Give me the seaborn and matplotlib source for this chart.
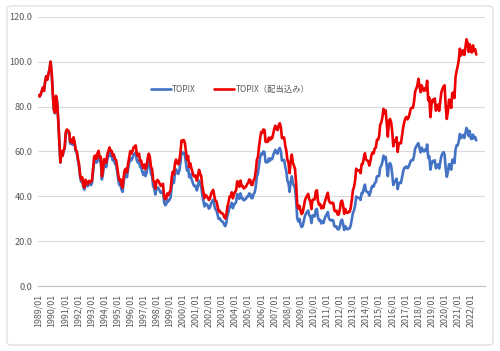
import numpy as np
import pandas as pd
import matplotlib
matplotlib.use("Agg")
import matplotlib.pyplot as plt
from matplotlib.patches import FancyBboxPatch
import seaborn as sns

# monthly index, 1989/12 = 100
topix = [
    85.0, 84.5, 85.5, 87.0, 88.5, 87.0, 91.0, 93.5, 92.0, 94.5, 96.5, 100.0,  # 1989
    95.0, 86.0, 78.5, 77.0, 84.5, 82.0, 74.0, 64.0, 55.0, 60.0, 58.0, 60.2,   # 1990
    61.5, 68.0, 69.0, 68.5, 68.0, 63.5, 64.5, 63.0, 65.5, 63.5, 60.0, 59.5,   # 1991
    56.0, 53.5, 49.0, 46.5, 47.5, 44.0, 43.0, 46.5, 45.0, 44.5, 46.0, 45.4,   # 1992
    45.0, 46.0, 51.0, 56.0, 56.5, 55.0, 57.5, 58.5, 55.5, 56.0, 47.5, 50.0,   # 1993
    54.5, 54.0, 53.0, 56.5, 58.0, 59.5, 58.0, 58.0, 56.0, 56.5, 54.5, 54.1,   # 1994
    51.0, 47.5, 45.0, 45.5, 43.0, 42.0, 46.5, 49.5, 50.0, 48.5, 52.0, 54.7,   # 1995
    57.0, 56.0, 57.0, 58.5, 59.0, 59.5, 56.0, 55.0, 56.0, 53.0, 53.0, 51.0,   # 1996
    49.5, 51.0, 49.0, 50.5, 53.5, 55.5, 54.0, 50.0, 49.0, 44.5, 43.5, 40.8,   # 1997
    43.5, 44.0, 43.5, 42.5, 41.5, 42.0, 42.5, 37.5, 36.0, 36.5, 38.5, 37.7,   # 1998
    38.5, 39.5, 44.5, 47.0, 46.0, 50.5, 52.0, 50.5, 50.0, 51.5, 55.0, 59.8,   # 1999
    59.0, 59.5, 58.5, 55.0, 51.5, 53.0, 48.5, 50.0, 48.0, 46.5, 45.0, 44.5,   # 2000
    44.7, 42.6, 44.3, 47.0, 45.5, 44.5, 40.5, 38.0, 35.5, 36.8, 36.4, 35.8,   # 2001
    34.5, 35.0, 36.8, 37.8, 38.5, 36.1, 34.2, 33.8, 31.9, 29.9, 30.2, 29.3,   # 2002
    28.8, 28.6, 27.4, 26.7, 28.1, 31.4, 33.0, 35.4, 35.3, 37.1, 34.7, 36.2,   # 2003
    36.8, 37.5, 41.0, 40.3, 38.9, 41.3, 39.2, 39.2, 38.2, 38.5, 38.9, 39.9,   # 2004
    39.9, 41.3, 41.0, 39.2, 39.2, 41.0, 41.7, 44.4, 48.9, 50.0, 54.1, 57.3,   # 2005
    59.0, 58.7, 60.0, 59.7, 55.2, 55.2, 55.2, 56.9, 55.9, 56.9, 56.6, 58.3,   # 2006
    59.7, 60.7, 59.4, 59.0, 60.7, 61.6, 60.0, 55.9, 56.2, 56.2, 53.1, 51.2,   # 2007
    46.9, 45.8, 42.0, 46.5, 48.9, 45.8, 44.8, 43.4, 37.8, 30.2, 28.8, 29.9,   # 2008
    27.6, 26.3, 26.8, 29.1, 31.2, 32.3, 33.0, 33.7, 31.6, 30.9, 28.1, 31.5,   # 2009
    31.2, 31.1, 34.0, 34.4, 30.5, 29.2, 29.5, 27.9, 28.8, 28.1, 29.9, 31.2,   # 2010
    31.9, 33.0, 30.2, 29.5, 29.2, 29.5, 29.2, 26.7, 26.4, 26.6, 25.3, 25.3,   # 2011
    26.4, 29.0, 29.6, 27.9, 25.0, 26.7, 25.5, 25.3, 25.7, 25.7, 27.1, 29.9,   # 2012
    32.6, 33.7, 35.9, 39.9, 39.4, 39.4, 39.2, 38.4, 41.5, 41.5, 43.7, 45.2,   # 2013
    42.3, 42.0, 41.8, 40.3, 41.7, 43.8, 44.7, 44.3, 46.0, 46.3, 48.9, 48.9,   # 2014
    49.1, 52.9, 53.6, 55.3, 58.1, 56.6, 57.6, 53.3, 49.0, 54.1, 54.8, 53.7,   # 2015
    49.7, 45.0, 46.8, 46.5, 47.9, 43.2, 45.9, 46.1, 45.9, 48.4, 51.0, 52.7,   # 2016
    52.8, 53.3, 52.5, 53.1, 54.4, 55.9, 56.2, 56.1, 58.1, 61.3, 62.2, 63.1,   # 2017
    63.7, 61.4, 59.6, 61.7, 60.6, 60.0, 60.8, 60.2, 63.1, 57.1, 57.9, 51.9,   # 2018
    54.4, 55.8, 55.3, 56.1, 52.5, 53.8, 54.3, 52.4, 55.1, 57.9, 59.0, 59.7,   # 2019
    58.5, 52.4, 48.7, 50.8, 54.3, 54.1, 51.9, 56.2, 56.4, 54.8, 60.9, 62.7,   # 2020
    62.8, 64.7, 67.8, 65.9, 66.7, 67.4, 66.0, 68.0, 70.5, 69.5, 66.9, 69.1,   # 2021
    65.8, 65.5, 67.5, 65.9, 66.4, 64.9,                                       # 2022
]

topix_div = [
    85.0, 84.5, 85.5, 87.0, 88.5, 87.0, 91.0, 93.5, 92.0, 94.5, 96.5, 100.0,  # 1989
    95.3, 86.3, 78.8, 77.3, 84.8, 82.3, 74.3, 64.3, 55.2, 60.2, 58.2, 60.5,   # 1990
    62.2, 68.8, 69.8, 69.3, 68.8, 64.3, 65.3, 63.8, 66.3, 64.3, 60.7, 60.2,   # 1991
    57.1, 54.6, 50.0, 47.4, 48.5, 44.9, 43.9, 47.4, 45.9, 45.4, 46.9, 46.3,   # 1992
    46.4, 47.4, 52.5, 57.7, 58.2, 56.7, 59.2, 60.3, 57.2, 57.7, 48.9, 51.5,   # 1993
    56.6, 56.1, 55.0, 58.6, 60.2, 61.8, 60.2, 60.2, 58.1, 58.6, 56.6, 56.2,   # 1994
    53.3, 49.7, 47.1, 47.6, 45.0, 43.9, 48.6, 51.8, 52.3, 50.7, 54.4, 57.2,   # 1995
    60.1, 59.0, 60.1, 61.7, 62.2, 62.7, 59.0, 58.0, 59.0, 55.9, 55.9, 53.8,   # 1996
    52.6, 54.2, 52.1, 53.7, 56.9, 59.0, 57.4, 53.2, 52.1, 47.3, 46.2, 43.4,   # 1997
    46.7, 47.3, 46.7, 45.6, 44.6, 45.1, 45.6, 40.3, 38.7, 39.2, 41.3, 40.5,   # 1998
    41.8, 42.9, 48.3, 51.0, 49.9, 54.8, 56.4, 54.8, 54.3, 55.9, 59.7, 64.9,   # 1999
    64.5, 65.1, 64.0, 60.2, 56.3, 58.0, 53.1, 54.7, 52.5, 50.9, 49.2, 48.7,   # 2000
    49.3, 47.0, 48.9, 51.8, 50.2, 49.1, 44.7, 41.9, 39.2, 40.6, 40.1, 39.5,   # 2001
    38.4, 39.0, 41.0, 42.1, 42.9, 40.2, 38.1, 37.7, 35.5, 33.3, 33.6, 32.6,   # 2002
    32.5, 32.2, 30.9, 30.1, 31.7, 35.4, 37.2, 39.9, 39.8, 41.8, 39.1, 40.8,   # 2003
    41.9, 42.7, 46.7, 45.9, 44.3, 47.0, 44.6, 44.6, 43.5, 43.9, 44.3, 45.4,   # 2004
    45.9, 47.5, 47.2, 45.1, 45.1, 47.2, 48.0, 51.1, 56.3, 57.6, 62.3, 66.0,   # 2005
    68.7, 68.3, 69.8, 69.5, 64.3, 64.3, 64.3, 66.2, 65.1, 66.2, 65.9, 67.9,   # 2006
    70.3, 71.5, 70.0, 69.5, 71.5, 72.6, 70.7, 65.9, 66.2, 66.2, 62.6, 60.3,   # 2007
    56.2, 54.9, 50.3, 55.7, 58.6, 54.9, 53.7, 52.0, 45.3, 36.2, 34.5, 35.8,   # 2008
    33.7, 32.1, 32.7, 35.5, 38.1, 39.4, 40.3, 41.1, 38.6, 37.7, 34.3, 38.4,   # 2009
    38.7, 38.6, 42.2, 42.7, 37.8, 36.2, 36.6, 34.6, 35.7, 34.8, 37.1, 38.7,   # 2010
    40.3, 41.6, 38.1, 37.2, 36.9, 37.2, 36.9, 33.7, 33.3, 33.6, 31.9, 31.9,   # 2011
    34.0, 37.4, 38.1, 35.9, 32.2, 34.4, 32.8, 32.6, 33.1, 33.1, 34.9, 38.5,   # 2012
    42.7, 44.1, 47.0, 52.3, 51.6, 51.6, 51.4, 50.3, 54.4, 54.4, 57.2, 59.2,   # 2013
    56.4, 56.0, 55.7, 53.7, 55.6, 58.4, 59.6, 59.1, 61.3, 61.7, 65.2, 65.2,   # 2014
    66.8, 71.9, 72.9, 75.2, 79.0, 77.0, 78.3, 72.5, 66.6, 73.6, 74.5, 73.0,   # 2015
    68.8, 62.3, 64.8, 64.4, 66.3, 59.8, 63.6, 63.8, 63.6, 67.0, 70.6, 73.0,   # 2016
    74.7, 75.4, 74.3, 75.1, 77.0, 79.1, 79.5, 79.4, 82.2, 86.7, 88.0, 89.3,   # 2017
    92.4, 89.0, 86.4, 89.5, 87.9, 87.0, 88.2, 87.3, 91.5, 82.8, 84.0, 75.3,   # 2018
    81.1, 83.1, 82.4, 83.6, 78.2, 80.2, 80.9, 78.1, 82.1, 86.3, 87.9, 89.0,   # 2019
    89.5, 80.2, 74.5, 77.7, 83.1, 82.8, 79.4, 86.0, 86.3, 83.8, 93.2, 95.9,   # 2020
    98.0, 100.9, 105.8, 102.8, 104.1, 105.1, 103.0, 106.1, 110.0, 108.4, 104.4, 107.8,  # 2021
    104.6, 104.1, 107.3, 104.8, 105.6, 103.2,                                 # 2022
]

series_names = ["TOPIX", "TOPIX（配当込み）"]
series_colors = ["#4472C4", "#EE0000"]

months = pd.date_range("1989-01-01", periods=len(topix), freq="MS")
month_labels = [d.strftime("%Y/%m") for d in months]

df = pd.DataFrame({
    "idx": np.concatenate([np.arange(len(topix)), np.arange(len(topix_div))]),
    "value": topix + topix_div,
    "series": [series_names[0]] * len(topix) + [series_names[1]] * len(topix_div),
})

sns.set_theme(style="white")
plt.rcParams["font.family"] = ["Noto Sans CJK JP", "DejaVu Sans"]

fig = plt.figure(figsize=(5.0, 3.51), dpi=100)
ax = fig.add_axes([0.076, 0.185, 0.894, 0.767])

# chart area frame
fig.patches.append(FancyBboxPatch((0.014, 0.017), 0.972, 0.966,
                                  boxstyle="round,pad=0,rounding_size=0.01",
                                  transform=fig.transFigure, fill=False,
                                  edgecolor="#D9D9D9", linewidth=0.8))

sns.lineplot(data=df, x="idx", y="value", hue="series", hue_order=series_names,
             palette=series_colors, linewidth=1.9, ax=ax, legend=True)

ax.set_ylim(0, 120)
ax.set_xlim(-0.5, len(topix) + 7)
ax.set_yticks(np.arange(0, 121, 20))
ax.set_yticklabels([f"{v:.1f}" for v in np.arange(0, 121, 20)])
ax.yaxis.grid(True, color="#D9D9D9", linewidth=0.8)
ax.set_axisbelow(True)

tick_pos = list(range(0, len(topix), 12))
ax.set_xticks(tick_pos)
ax.set_xticklabels([month_labels[i] for i in tick_pos], rotation=90)
ax.tick_params(axis="x", direction="inout", length=5, width=0.6, color="#BFBFBF",
               labelsize=6.4, labelcolor="#595959", pad=3)
ax.tick_params(axis="y", length=0, labelsize=6.6, labelcolor="#595959", pad=4)

for s in ["top", "right", "left"]:
    ax.spines[s].set_visible(False)
ax.spines["bottom"].set_color("#BFBFBF")
ax.spines["bottom"].set_linewidth(0.8)
ax.set_xlabel("")
ax.set_ylabel("")

ax.legend(loc="center", bbox_to_anchor=(0.43, 0.73), ncol=2, frameon=False,
          fontsize=6, handlelength=2.4, handletextpad=0.2, columnspacing=2.2,
          labelcolor="#595959")

fig.savefig("out.png", dpi=100)
